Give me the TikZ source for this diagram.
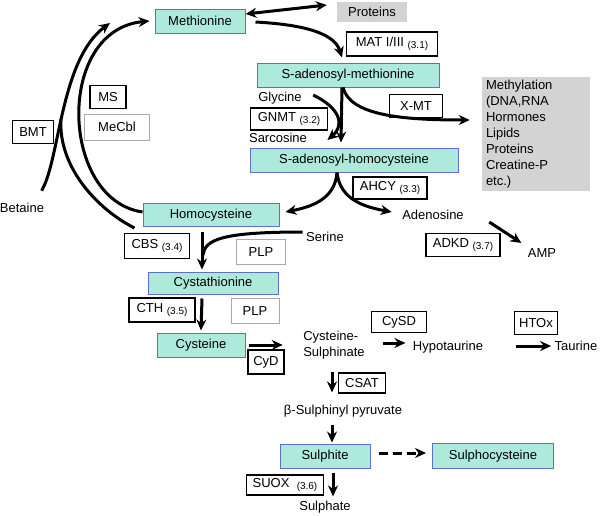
\documentclass[tikz,border=0pt]{standalone}
\usepackage{fontspec}
\setmainfont{Liberation Sans}
\usetikzlibrary{arrows.meta}
\definecolor{metfill}{RGB}{174,234,220}
\definecolor{metdraw}{RGB}{96,112,200}
\definecolor{poolgray}{RGB}{211,211,211}
\definecolor{cofgray}{RGB}{170,170,170}
\newcommand{\ecn}[1]{\raisebox{-1.5pt}{\fontsize{10}{12}\selectfont(#1)}}

\begin{document}
\begin{tikzpicture}[x=1pt,y=-1pt,
		font=\fontsize{13}{16}\selectfont,
		metab/.style={draw=metdraw,fill=metfill,line width=1pt,minimum height=24pt,inner sep=2pt},
		enz/.style={draw,line width=1.5pt,minimum height=23pt,inner sep=3pt},
		cof/.style={draw=cofgray,line width=1pt,minimum height=25pt,inner sep=3pt},
		pool/.style={fill=poolgray,inner sep=3pt},
		flow/.style={line width=3pt},
		conv/.style={flow,-{Stealth[length=11pt,width=10pt]}}]
		\useasboundingbox (0,0) rectangle (603,515);
		
		% metabolites
		\node[metab,minimum width=90pt] (met) at (200,21) {Methionine};
		\node[metab,minimum width=182pt] (sam) at (348,75) {S-adenosyl-methionine};
		\node[metab,minimum width=208pt] (sah) at (354,160) {S-adenosyl-homocysteine};
		\node[metab,minimum width=136pt,minimum height=23pt] (hcy) at (211,215) {Homocysteine};
		\node[metab,minimum width=130pt,minimum height=22pt] (cysta) at (213,283) {Cystathionine};
		\node[metab,minimum width=88pt] (cys) at (201,345) {Cysteine};
		\node[metab,minimum width=90pt] (sulf) at (325,456) {Sulphite};
		\node[metab,minimum width=121pt,minimum height=25pt] (sulc) at (493,456) {Sulphocysteine};
		
		% pools
		\node[pool,minimum width=70pt,minimum height=20pt] (prot) at (372,12) {Proteins};
		\node[pool,minimum width=108pt,minimum height=112pt,text width=100pt,align=left] (meth) at (536,134)
			{Methylation\\(DNA,RNA\\Hormones\\Lipids\\Proteins\\Creatine-P\\etc.)};
		
		% enzymes and cofactors
		\node[enz,minimum width=91pt,minimum height=24pt] (mat) at (392,44) {MAT I/III \ecn{3.1}};
		\node[enz,minimum width=53pt] (xmt) at (416,106) {X-MT};
		\node[enz,minimum width=77pt,minimum height=22pt] (gnmt) at (289,119) {GNMT \ecn{3.2}};
		\node[enz,minimum width=74pt,minimum height=22pt] (ahcy) at (390,188) {AHCY \ecn{3.3}};
		\node[enz,minimum width=74pt] (adkd) at (463,245) {ADKD \ecn{3.7}};
		\node[enz,minimum width=65pt,minimum height=25pt] (cbs) at (157,246) {CBS \ecn{3.4}};
		\node[cof,minimum width=49pt] (plpa) at (261,252) {PLP};
		\node[enz,minimum width=66pt,minimum height=24pt] (cth) at (162,310) {CTH \ecn{3.5}};
		\node[cof,minimum width=48pt] (plpb) at (255,311) {PLP};
		\node[enz,minimum width=36pt,minimum height=24pt] (cyd) at (266,362) {CyD};
		\node[enz,minimum width=55pt,minimum height=21pt] (cysd) at (399,322) {CySD};
		\node[enz,minimum width=43pt] (htox) at (536,323) {HTOx};
		\node[enz,minimum width=47pt,minimum height=20pt] (csat) at (362,383) {CSAT};
		\node[enz,minimum width=77pt,minimum height=20pt] (suox) at (285,485) {SUOX \ \ecn{3.6}};
		\node[enz,minimum width=36pt] (ms) at (108,97) {MS};
		\node[cof,minimum width=65pt,minimum height=26pt] (mecbl) at (117,127) {MeCbl};
		\node[enz,minimum width=41pt] (bmt) at (33,132) {BMT};
		
		% plain labels
		\node (gly) at (280,98) {Glycine};
		\node (sar) at (278,138) {Sarcosine};
		\node (ado) at (433,215) {Adenosine};
		\node (amp) at (542,253) {AMP};
		\node (ser) at (325,237) {Serine};
		\node (bet) at (22,208) {Betaine};
		\node[align=left] (csul) at (334,345) {Cysteine-\\Sulphinate};
		\node (hypo) at (448,347) {Hypotaurine};
		\node (tau) at (576,346) {Taurine};
		\node (bsp) at (343,411) {β-Sulphinyl pyruvate};
		\node (sulph) at (325,507) {Sulphate};
		
		% remethylation
		\draw[conv] ([yshift=3pt]hcy.west) .. controls (60,200) and (55,30) .. ([xshift=-5pt]met.west);
		\draw[conv] ([xshift=-6pt,yshift=9pt]bet.north east) .. controls (60,160) and (60,60) .. (110,23);
		\draw[flow] ([xshift=-8pt,yshift=-1pt]hcy.south west) .. controls (95,208) and (58,165) .. (61,119);
		
		% methionine cycle
		\draw[flow,{Stealth[length=11pt,width=10pt]}-{Stealth[length=11pt,width=10pt]}] ([yshift=7pt]met.east) -- ([xshift=-10pt,yshift=7pt]prot.west);
		\draw[conv] ([xshift=10pt,yshift=-1pt]met.east) .. controls (310,25) and (335,35) .. ([xshift=-6pt,yshift=5pt]sam.north);
		\draw[conv] ([xshift=-6pt]sam.south) -- ([xshift=-13pt,yshift=5pt]sah.north);
		\draw[conv] ([xshift=-5pt]sam.south) .. controls (350,115) and (400,120) .. ([xshift=-12pt,yshift=14pt]meth.west);
		\draw[conv] ([xshift=8pt,yshift=3pt]gly.east) .. controls (340,108) and (345,125) .. ([xshift=17pt,yshift=-2pt]sar.east);
		\draw[conv] ([xshift=-17pt]sah.south) .. controls (335,200) and (310,207) .. ([xshift=6pt,yshift=3pt]hcy.east);
		\draw[conv] ([xshift=-17pt]sah.south) .. controls (340,200) and (365,207) .. ([xshift=-7pt,yshift=3pt]ado.west);
		\draw[conv] ([xshift=22pt,yshift=-7pt]ado.east) -- ([xshift=-3pt,yshift=2pt]amp.north west);
		
		% transsulphuration
		\draw[conv] ([xshift=-9pt,yshift=-5pt]hcy.south) -- ([xshift=-11pt,yshift=2pt]cysta.north);
		\draw[flow] ([yshift=5pt]ser.west) .. controls (220,232) and (205,240) .. (203,255);
		\draw[conv] ([xshift=-11pt,yshift=-4pt]cysta.south) -- ([yshift=2pt]cys.north);
		\draw[conv] ([xshift=3pt]cys.east) -- ([xshift=-17pt]csul.west);
		\draw[conv] ([xshift=15pt,yshift=2pt]csul.east) -- ([xshift=-4pt,yshift=4pt]hypo.west);
		\draw[conv] ([xshift=-35pt]tau.west) -- (tau.west);
		\draw[conv] ([xshift=-2pt,yshift=-9pt]csul.south) -- ([xshift=-11pt,yshift=9pt]bsp.north);
		\draw[conv] ([xshift=-11pt,yshift=-4pt]bsp.south) -- ([xshift=7pt,yshift=1pt]sulf.north);
		\draw[flow,dash pattern=on 9pt off 5pt,-{Stealth[length=11pt,width=10pt]}] ([xshift=8pt,yshift=3pt]sulf.east) -- ([xshift=-6pt,yshift=3pt]sulc.west);
		\draw[conv] ([xshift=8pt,yshift=-4pt]sulf.south) -- ([xshift=8pt,yshift=1pt]sulph.north);
	\end{tikzpicture}
\end{document}
